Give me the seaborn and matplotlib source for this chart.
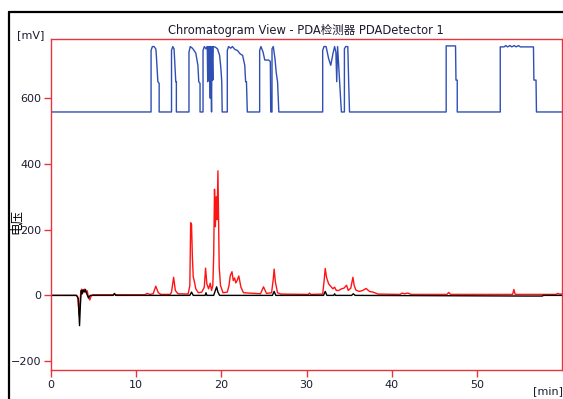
import matplotlib
matplotlib.use("Agg")
import matplotlib.pyplot as plt
from matplotlib.lines import Line2D
import seaborn as sns

# --- data: detector traces as (time [min], signal [mV]) vertices ---
blue_t = [0, 11.75, 11.75, 11.9, 12.1, 12.3, 12.35, 12.55, 12.7, 12.7,
          14.15, 14.15, 14.3, 14.45, 14.55, 14.65, 14.72, 14.72,
          16.2, 16.2, 16.35, 16.6, 16.8, 17.0, 17.25, 17.35, 17.5, 17.5,
          17.85, 17.85, 18.0, 18.2, 18.35, 18.4, 18.45, 18.55, 18.6, 18.7, 18.75,
          18.85, 18.9, 19.0, 19.05, 19.3, 19.55, 19.8, 19.95, 20.05, 20.1,
          20.7, 20.7, 20.85, 21.1, 21.3, 21.6, 21.9, 22.2, 22.5, 22.75, 22.85, 22.95, 23.05,
          24.5, 24.5, 24.65, 24.9, 25.1, 25.55, 25.75, 25.8,
          25.95, 25.95, 26.1, 26.3, 26.45, 26.6, 26.75,
          31.9, 31.9, 32.05, 32.3, 32.6, 32.85, 33.1, 33.3, 33.45, 33.55, 33.65, 33.8, 34.0, 34.1,
          34.45, 34.45, 34.6, 34.85, 34.95, 35.05,
          46.4, 46.4, 47.5, 47.55, 47.7, 47.7,
          52.75, 52.75, 53.2, 53.4, 53.6, 53.9, 54.1, 54.4, 54.6, 54.9, 55.1, 56.65, 56.7, 56.95, 57.0, 60]
blue_v = [558, 558, 745, 757, 757, 750, 738, 650, 645, 558,
          558, 745, 757, 750, 700, 650, 650, 558,
          558, 740, 757, 752, 745, 737, 700, 650, 645, 558,
          558, 745, 757, 750, 757, 650, 757, 655, 757, 600, 757,
          558, 757, 655, 757, 755, 750, 730, 690, 650, 558,
          558, 745, 757, 752, 757, 748, 745, 735, 730, 700, 650, 650, 558,
          558, 745, 757, 740, 716, 716, 712, 558,
          558, 750, 757, 720, 677, 650, 558,
          558, 745, 757, 757, 720, 700, 735, 757, 740, 650, 757, 690, 600, 558,
          558, 750, 757, 757, 650, 558,
          558, 759, 759, 655, 655, 558,
          558, 756, 756, 760, 756, 760, 756, 760, 756, 760, 756, 756, 655, 655, 558, 558]

red_t = [0, 3.0, 3.15, 3.3, 3.4, 3.5, 3.6, 3.7, 3.8, 3.95, 4.1, 4.25, 4.4, 4.55, 4.7, 4.9,
         7.2, 7.45, 7.7, 11.0, 11.3, 11.6, 12.0, 12.3, 12.6, 12.9,
         14.0, 14.15, 14.4, 14.6, 14.9, 16.1, 16.3, 16.4, 16.5, 16.6, 16.7, 16.85, 17.0, 17.3,
         17.7, 18.0, 18.15, 18.3, 18.5, 18.7, 18.85, 19.0, 19.1, 19.2, 19.3, 19.4, 19.5, 19.6,
         19.75, 19.9, 20.2, 20.7, 20.9, 21.05, 21.25, 21.4, 21.55, 21.7, 21.85, 22.05, 22.3, 22.6,
         24.6, 24.95, 25.3, 25.9, 26.1, 26.2, 26.35, 26.6, 27.0, 30.2, 30.35, 30.5,
         31.9, 32.05, 32.2, 32.35, 32.6, 32.9, 33.1, 33.3, 33.5, 33.8, 34.1, 34.4, 34.7, 34.9,
         35.2, 35.45, 35.6, 35.8, 36.2, 36.6, 37.0, 37.4, 37.8, 38.4,
         41.0, 41.2, 41.5, 41.9, 42.3, 46.5, 46.7, 46.9, 54.2, 54.35, 54.5, 59.3, 59.5, 59.7, 60]
red_v = [0, 0, -5, -60, -20, 10, 19, 5, 16, 19, 8, 14, -5, -14, -3, 2,
         2, 3, 2, 2, 6, 3, 5, 28, 8, 3,
         3, 10, 55, 15, 5, 4, 30, 221, 215, 118, 57, 40, 20, 8,
         10, 25, 83, 35, 20, 37, 15, 30, 120, 323, 209, 300, 230, 379,
         87, 30, 8, 10, 30, 60, 72, 45, 53, 38, 45, 59, 25, 8,
         5, 26, 6, 8, 50, 80, 40, 8, 4, 3, 7, 3,
         4, 40, 82, 55, 35, 26, 20, 25, 15, 15, 20, 22, 31, 15,
         22, 55, 30, 16, 12, 15, 21, 12, 10, 4,
         3, 7, 5, 7, 3, 3, 9, 3, 3, 18, 3, 3, 6, 4, 4]

black_t = [0, 3.0, 3.2, 3.35, 3.45, 3.55, 3.65, 3.75, 3.9, 4.05, 4.2, 4.4, 4.6,
           7.3, 7.45, 7.6, 16.3, 16.5, 16.7, 18.1, 18.2, 18.3, 19.1, 19.3, 19.45, 19.6, 19.8,
           26.0, 26.2, 26.4, 32.0, 32.2, 32.4, 33.2, 33.3, 33.4, 35.3, 35.5, 35.7,
           55.9, 57.7, 57.8, 60]
black_v = [0, 0, -10, -92, -30, 15, 5, 17, 10, 18, 5, -8, 0,
           0, 6, 0, 0, 10, 0, 0, 8, 0, 0, 15, 26, 10, 0,
           0, 12, 0, 0, 12, 0, 0, 5, 0, 0, 5, 0,
           -2, -2, 0, 0]

x_ticks = [0, 10, 20, 30, 40, 50]
y_ticks = [-200, 0, 200, 400, 600]

title = "Chromatogram View - PDA检测器 PDADetector 1"
y_label = "电压"

# --- styling ---
sns.set_style("white")
fonts = ["DejaVu Sans", "Noto Sans CJK SC"]
plt.rcParams["font.family"] = fonts

frame_red = "#e8343c"
text_col = "#1c1c30"

fig = plt.figure(figsize=(5.63, 3.99), dpi=100)
ax = fig.add_axes([51 / 563, 1 - 370 / 399, (562 - 51) / 563, (370 - 39) / 399])

sns.lineplot(x=blue_t, y=blue_v, sort=False, estimator=None, color="#2f4fb5", linewidth=1.0, ax=ax)
sns.lineplot(x=red_t, y=red_v, sort=False, estimator=None, color="#ff1414", linewidth=1.0, ax=ax)
sns.lineplot(x=black_t, y=black_v, sort=False, estimator=None, color="black", linewidth=1.0, ax=ax)

ax.set_xlim(0, 60)
ax.set_ylim(-227, 780)
ax.set_xticks(x_ticks)
ax.set_yticks(y_ticks)
ax.tick_params(axis="both", direction="out", length=5, width=1, color=frame_red,
               labelsize=8, labelcolor=text_col, pad=2, bottom=True, left=True)
for sp in ax.spines.values():
    sp.set_color(frame_red)
    sp.set_linewidth(1.0)
ax.set_xlabel("")
ax.set_ylabel("")

fig.text(306 / 563, 1 - 30 / 399, title, ha="center", va="center", fontsize=8.3, color=text_col)
fig.text(31 / 563, 1 - 35 / 399, "[mV]", ha="center", va="center", fontsize=8, color=text_col)
fig.text(548 / 563, 1 - 391 / 399, "[min]", ha="center", va="center", fontsize=8, color=text_col)
fig.text(16 / 563, 1 - 222 / 399, y_label, ha="center", va="center", rotation=90,
         fontsize=9, color="black", family=["Noto Sans CJK SC", "DejaVu Sans"])

# outer window frame
fig.add_artist(Line2D([9 / 563, 9 / 563], [0, 1 - 12 / 399], color="black", linewidth=1.6,
                      transform=fig.transFigure))
fig.add_artist(Line2D([9 / 563, 1], [1 - 12 / 399, 1 - 12 / 399], color="black", linewidth=1.6,
                      transform=fig.transFigure))

fig.savefig("out.png", dpi=100)
